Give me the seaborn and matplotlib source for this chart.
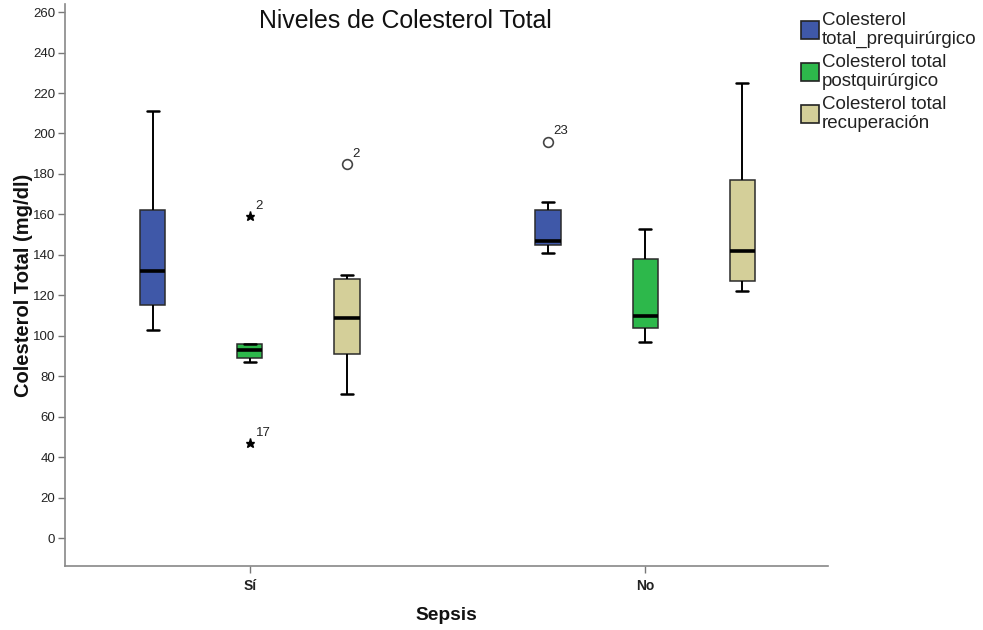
import numpy as np
import pandas as pd
import matplotlib
matplotlib.use("Agg")
import matplotlib.pyplot as plt
import seaborn as sns
from matplotlib.patches import Patch

# Categories
sepsis = ["Sí", "No"]
measures = [
    "Colesterol\ntotal_prequirúrgico",
    "Colesterol total\npostquirúrgico",
    "Colesterol total\nrecuperación",
]
colors = ["#3F58A8", "#2DB84B", "#D4CF99"]

# Five-number summaries (lower whisker, Q1, median, Q3, upper whisker), mg/dl
pre_si = [103, 115, 132, 162, 211]
post_si = [87, 89, 93, 96, 96]
rec_si = [71, 91, 109, 128, 130]
pre_no = [141, 145, 147, 162, 166]
post_no = [97, 104, 110, 138, 153]
rec_no = [122, 127, 142, 177, 225]

# Outlying cases
out_sepsis = ["Sí", "Sí", "Sí", "No"]
out_measure = [1, 1, 2, 0]
out_value = [159, 47, 185, 196]
out_case = ["2", "17", "2", "23"]
out_extreme = [True, True, False, False]

y_ticks = list(range(0, 261, 20))

summaries = {
    ("Sí", 0): pre_si, ("Sí", 1): post_si, ("Sí", 2): rec_si,
    ("No", 0): pre_no, ("No", 1): post_no, ("No", 2): rec_no,
}
rows = []
for (s, m), vals in summaries.items():
    for v in vals:
        rows.append({"Sepsis": s, "Medida": measures[m], "Valor": v})
df = pd.DataFrame(rows)

sns.set_style("white")
plt.rcParams["font.family"] = ["Liberation Sans", "DejaVu Sans"]
narrow = ["Liberation Sans Narrow", "Liberation Sans"]

fig = plt.figure(figsize=(9.83, 6.30), dpi=100)
ax = fig.add_axes([65 / 983, 1 - 566 / 630, (828 - 65) / 983, (566 - 4) / 630])

group_width = 0.737
gap = 0.742
sns.boxplot(
    data=df, x="Sepsis", y="Valor", hue="Medida",
    order=sepsis, hue_order=measures, palette=colors,
    whis=(0, 100), showfliers=False, width=group_width, gap=gap,
    linecolor="#2b2b2b", linewidth=1.1, saturation=1,
    medianprops=dict(color="black", linewidth=2.6),
    whiskerprops=dict(color="black", linewidth=1.4),
    capprops=dict(color="black", linewidth=1.8),
    legend=False, ax=ax,
)

# Outliers: circles for mild, stars for extreme
hue_step = group_width / len(measures)
for s, m, v, c, ext in zip(out_sepsis, out_measure, out_value, out_case, out_extreme):
    xpos = sepsis.index(s) + (m - (len(measures) - 1) / 2) * hue_step
    if ext:
        ax.plot(xpos, v, marker="*", color="black", markersize=6.5, linestyle="none")
    else:
        ax.plot(xpos, v, marker="o", markerfacecolor="white", markeredgecolor="#444444",
                markeredgewidth=1.2, markersize=7, linestyle="none")
    ax.annotate(c, (xpos, v), xytext=(4, 3), textcoords="offset points",
                fontsize=9.5, color="#222222", ha="left", va="bottom")

ax.set_xlim(-0.468, 1.463)
ax.set_ylim(-13.8, 264)
ax.set_yticks(y_ticks)
ax.set_yticklabels([str(t) for t in y_ticks], fontsize=9.5, color="#222222")
ax.set_xticks(range(len(sepsis)))
ax.set_xticklabels(sepsis, fontsize=10, fontweight="bold", color="#222222", family=narrow)
ax.tick_params(axis="y", direction="out", length=5, width=1, color="#777777", left=True, pad=2)
ax.tick_params(axis="x", direction="out", length=5, width=1, color="#777777", bottom=True, pad=4)

for side in ["top", "right"]:
    ax.spines[side].set_visible(False)
for side in ["left", "bottom"]:
    ax.spines[side].set_color("#888888")
    ax.spines[side].set_linewidth(1.2)

ax.set_ylabel("Colesterol Total (mg/dl)", fontsize=14.5, fontweight="bold", color="#111111")
ax.yaxis.set_label_coords(-0.042, 0.5)
ax.set_xlabel("Sepsis", fontsize=13.8, fontweight="bold", color="#111111", family=narrow)
ax.xaxis.set_label_coords(0.5, -0.073)

fig.text(405 / 983, 1 - 21 / 630, "Niveles de Colesterol Total", fontsize=17.9,
         color="#111111", ha="center", va="center")

handles = [Patch(facecolor=c, edgecolor="#222222", linewidth=1.2) for c in colors]
leg = fig.legend(handles, measures, loc="upper left", bbox_to_anchor=(801 / 983, 1 - 12 / 630),
                 frameon=False, fontsize=13.5, handlelength=0.96, handleheight=1.07,
                 handletextpad=0.15, labelspacing=0.3, borderaxespad=0, borderpad=0,
                 labelcolor="#222222")
for t in leg.get_texts():
    t.set_linespacing(1.17)

fig.savefig("out.png", dpi=100)
